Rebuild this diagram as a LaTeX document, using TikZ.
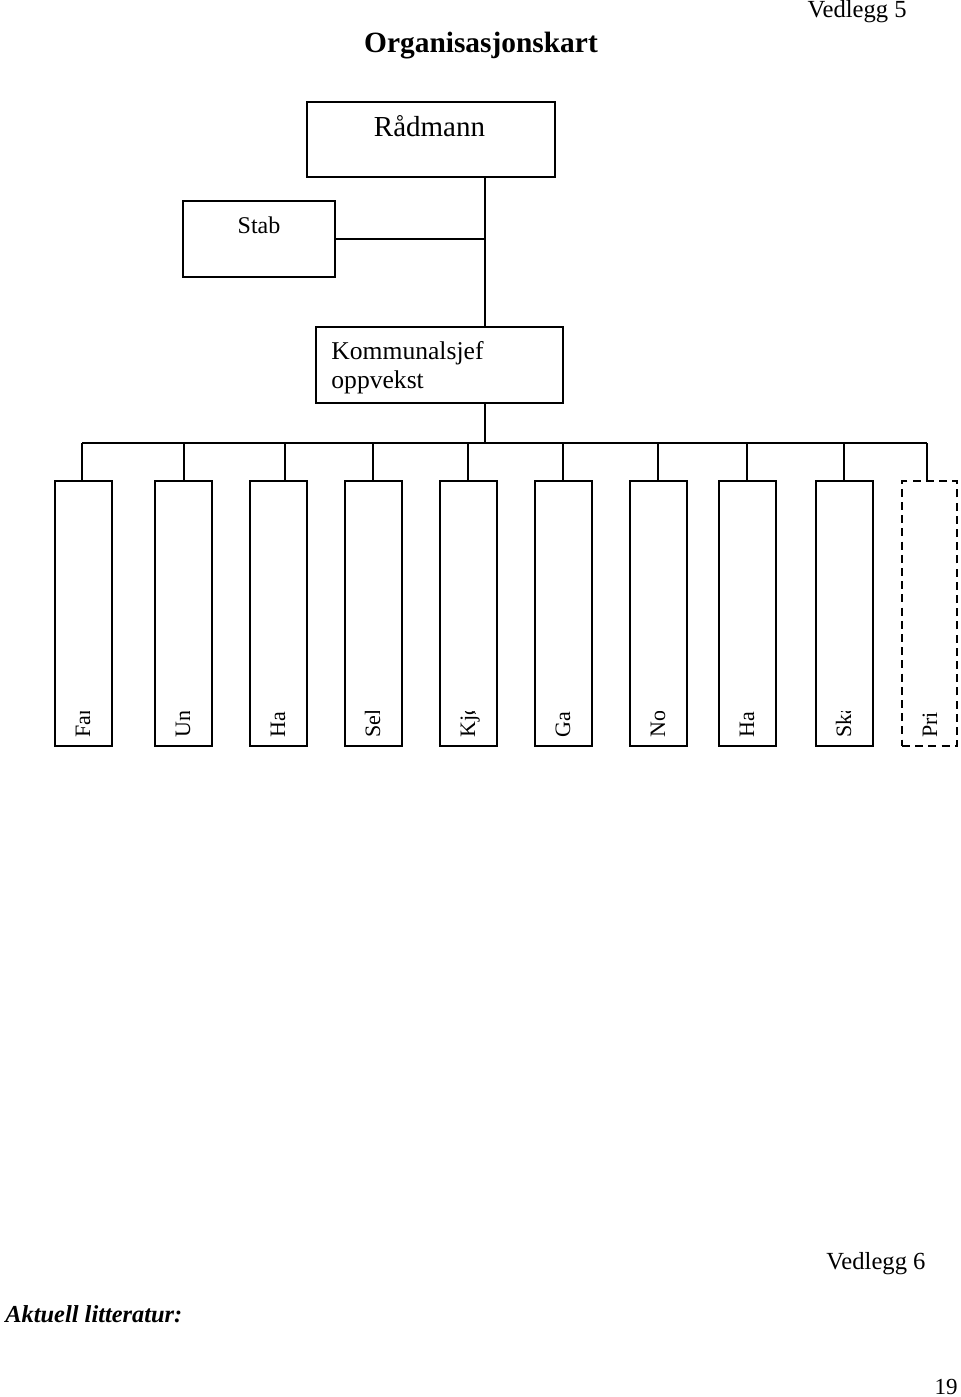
\documentclass[tikz,border=0pt]{standalone}
\usepackage{fontspec}
\setmainfont{Liberation Serif}
\begin{document}
\begin{tikzpicture}[x=0.5pt,y=-0.5pt,
  box/.style={draw,line width=1pt,inner sep=0pt},
  conn/.style={line width=1pt},
  dashbox/.style={draw,line width=1pt,dash pattern=on 4pt off 2.6pt,inner sep=0pt},
  lbl/.style={inner sep=0pt,anchor=base},
  vlbl/.style={inner sep=0pt,rotate=90,anchor=base west,font=\fontsize{11}{13}\selectfont}]
\useasboundingbox (0,0) rectangle (960,1397);
% header texts
\node[lbl,anchor=base east,font=\fontsize{12.3}{14}\selectfont] (v5) at (907,18) {Vedlegg 5};
\node[lbl,font=\fontsize{14.7}{17}\selectfont\bfseries] (title) at (481,52) {Organisasjonskart};
% top boxes
\node[box,minimum width=124pt,minimum height=37.5pt] (r) at (431,139.5) {};
\node[lbl,font=\fontsize{14.5}{17}\selectfont] (rt) at (429.5,136.5) {Rådmann};
\node[box,minimum width=76pt,minimum height=38pt] (s) at (259,239) {};
\node[lbl,font=\fontsize{12}{14}\selectfont] (st) at (259,233) {Stab};
\node[box,minimum width=123.5pt,minimum height=38pt] (k) at (439.5,365) {};
\node[lbl,anchor=base west,font=\fontsize{12.8}{15}\selectfont] (kt1) at (331,359.5) {Kommunalsjef};
\node[lbl,anchor=base west,font=\fontsize{12.8}{15}\selectfont] (kt2) at (331,388.5) {oppvekst};
\coordinate (spine) at (485,0);
\draw[conn] (r.south -| spine) -- (k.north -| spine);
\draw[conn] (s.east) -- (s.east -| spine);
% bus
\coordinate (t1) at (82,443);
\coordinate (t2) at (184,443);
\coordinate (t3) at (285,443);
\coordinate (t4) at (373,443);
\coordinate (t5) at (468,443);
\coordinate (t6) at (563,443);
\coordinate (t7) at (658,443);
\coordinate (t8) at (747,443);
\coordinate (t9) at (844,443);
\coordinate (t10) at (927,443);
\draw[conn] (k.south -| spine) -- (spine |- t1);
\draw[conn] (t1) -- (t10);
% child boxes
\foreach \i/\l/\txt in {1/55/Fam,2/155/Ung,3/250/Hap,4/345/Sel,5/440/Kjø,6/535/Gal,7/630/Nor,8/719/Hap,9/816/Ska}{
  \node[box,minimum width=28.5pt,minimum height=132.5pt] (b\i) at (\l+28.5,613.5) {};
  \draw[conn] (t\i) -- (t\i |- b\i.north);
  \begin{scope}
    \clip (\l,711) rectangle (\l+57,746);
    \node[vlbl] (bt\i) at (\l+35,738) {\txt};
  \end{scope}
}
\node[dashbox,minimum width=27.5pt,minimum height=132.5pt] (b10) at (929.5,613.5) {};
\draw[conn] (t10) -- (t10 |- b10.north);
\begin{scope}
  \clip (902,711) rectangle (957,746);
  \node[vlbl] (bt10) at (937,738) {Priv};
\end{scope}
% footer texts
\node[lbl,anchor=base west,font=\fontsize{12.3}{14}\selectfont] (v6) at (826,1269.5) {Vedlegg 6};
\node[lbl,anchor=base west,font=\fontsize{12.2}{14}\selectfont\bfseries\itshape] (akt) at (5,1322) {Aktuell litteratur:};
\node[lbl,anchor=base east,font=\fontsize{11.5}{14}\selectfont] (pg) at (958,1394) {19};
\end{tikzpicture}
\end{document}
